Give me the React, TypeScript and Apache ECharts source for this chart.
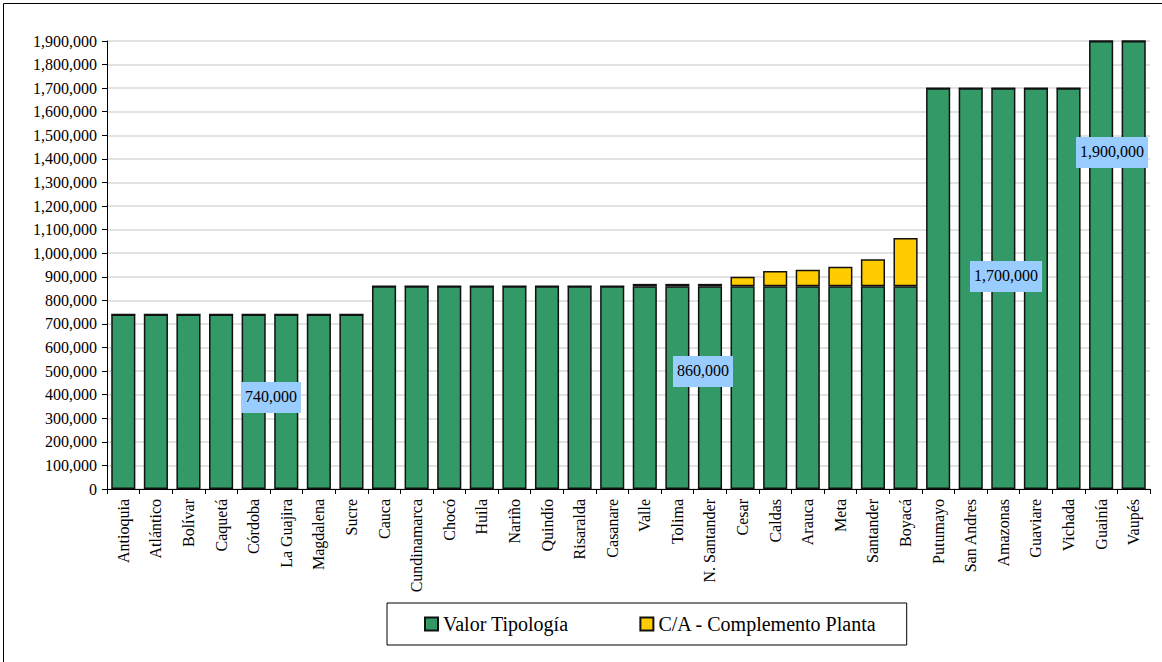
import React, { useEffect, useRef } from "react";
import * as echarts from "echarts";

const categories = [
  "Antioquia", "Atlántico", "Bolívar", "Caquetá", "Córdoba", "La Guajira", "Magdalena", "Sucre",
  "Cauca", "Cundinamarca", "Chocó", "Huila", "Nariño", "Quindío", "Risaralda", "Casanare",
  "Valle", "Tolima", "N. Santander", "Cesar", "Caldas", "Arauca", "Meta", "Santander", "Boyacá",
  "Putumayo", "San Andres", "Amazonas", "Guaviare", "Vichada", "Guainía", "Vaupés",
];
const valorTipologia = [
  740000, 740000, 740000, 740000, 740000, 740000, 740000, 740000,
  860000, 860000, 860000, 860000, 860000, 860000, 860000, 860000,
  860000, 860000, 860000, 860000, 860000, 860000, 860000, 860000, 860000,
  1700000, 1700000, 1700000, 1700000, 1700000, 1900000, 1900000,
];
const complementoPlanta = [
  0, 0, 0, 0, 0, 0, 0, 0,
  0, 0, 0, 0, 0, 0, 0, 0,
  10000, 10000, 10000, 40000, 65000, 70000, 83000, 114000, 204000,
  0, 0, 0, 0, 0, 0, 0,
];
const seriesNames = ["Valor Tipología", "C/A - Complemento Planta"];
const annotations = [
  { text: "740,000", x: 271, y: 382 },
  { text: "860,000", x: 703, y: 356 },
  { text: "1,700,000", x: 1006, y: 261 },
  { text: "1,900,000", x: 1112, y: 137 },
];

const FONT = "Liberation Serif";

export default function App() {
  const ref = useRef<HTMLDivElement>(null);
  useEffect(() => {
    if (!ref.current) return;
    const chart = echarts.init(ref.current, null, { renderer: "svg" });
    chart.setOption({
      animation: false,
      backgroundColor: "#ffffff",
      textStyle: { fontFamily: FONT },
      grid: { left: 107, right: 12, top: 41, bottom: 173, containLabel: false },
      legend: {
        left: 387,
        top: 603,
        padding: [11, 30, 11, 37],
        itemGap: 71,
        borderColor: "#000",
        borderWidth: 1,
        itemWidth: 13,
        itemHeight: 13,
        textStyle: { fontFamily: FONT, fontSize: 20, color: "#000" },
        data: seriesNames.map((n) => ({ name: n, icon: "rect" })),
      },
      xAxis: {
        type: "category",
        data: categories,
        axisLine: { lineStyle: { color: "#000" } },
        axisTick: { show: true, alignWithLabel: false, length: 5, lineStyle: { color: "#000" } },
        axisLabel: {
          rotate: 90,
          interval: 0,
          fontFamily: FONT,
          fontSize: 16,
          color: "#000",
          margin: 10,
        },
      },
      yAxis: {
        type: "value",
        min: 0,
        max: 1900000,
        interval: 100000,
        axisLine: { show: true, lineStyle: { color: "#000" } },
        axisTick: { show: true, length: 5, lineStyle: { color: "#000" } },
        splitLine: { lineStyle: { color: "#d9d9d9", width: 1.5 } },
        axisLabel: {
          fontFamily: FONT,
          fontSize: 16,
          color: "#000",
          margin: 10,
          formatter: (v: number) => v.toLocaleString("en-US"),
        },
      },
      series: [
        {
          name: seriesNames[0],
          type: "bar",
          stack: "total",
          data: valorTipologia,
          barCategoryGap: "26%",
          itemStyle: { color: "#339966", borderColor: "#111", borderWidth: 1.5 },
        },
        {
          name: seriesNames[1],
          type: "bar",
          stack: "total",
          data: complementoPlanta,
          itemStyle: { color: "#ffcc00", borderColor: "#111", borderWidth: 1.5 },
        },
      ],
      graphic: [
        {
          type: "rect",
          left: 1,
          top: 1,
          shape: { width: 1159, height: 668 },
          style: { fill: "none", stroke: "#000", lineWidth: 1 },
          silent: true,
        },
        ...annotations.map((a) => ({
          type: "text",
          x: a.x,
          y: a.y,
          z: 100,
          style: {
            text: a.text,
            fontFamily: FONT,
            fontSize: 16,
            fill: "#000",
            align: "center",
            verticalAlign: "top",
            backgroundColor: "#99ccff",
            padding: [6, 4, 9, 4],
          },
        })),
      ],
    });
    return () => chart.dispose();
  }, []);
  return (
    <div
      ref={ref}
      style={{ position: "fixed", left: 0, top: 0, width: 1162, height: 662 }}
    />
  );
}
